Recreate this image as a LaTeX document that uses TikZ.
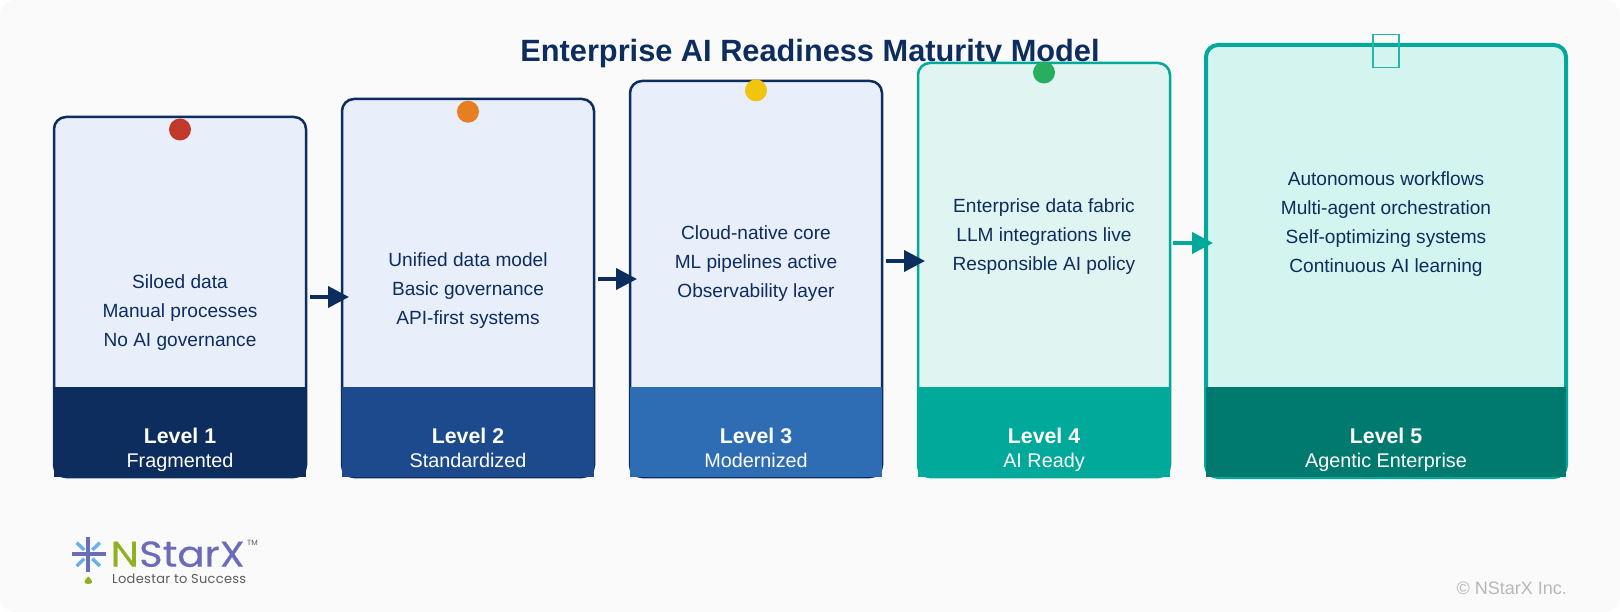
\documentclass[tikz,border=0pt]{standalone}
\usepackage{fontspec}
\setmainfont{Liberation Sans}
\newfontfamily\logofont[FakeBold=0.25]{Poppins}
\newfontfamily\logosmall{Poppins}
\newfontfamily\logotag[LetterSpace=2.3]{Poppins}
\usetikzlibrary{arrows.meta}
\definecolor{navy}{HTML}{0D2D5E}
\definecolor{teal1}{HTML}{00A99A}
\definecolor{tealdk}{HTML}{007A6E}
\definecolor{band2}{HTML}{1C4A8C}
\definecolor{band3}{HTML}{2E6DB4}
\definecolor{fillblue}{HTML}{E8EEFA}
\definecolor{fillaqua}{HTML}{E0F5F2}
\definecolor{fillmint}{HTML}{D4F5EF}
\definecolor{bgpage}{HTML}{FAFAFA}
\definecolor{logoviolet}{HTML}{6A6CB8}
\definecolor{logoblue}{HTML}{6AB0E8}
\definecolor{logogreen}{HTML}{8DB11F}
\definecolor{loggrey}{HTML}{5C5C5C}
\tikzset{
  cardbox/.style={draw,rectangle,rounded corners=12pt,inner sep=0pt,outer sep=0pt,minimum width=252pt,line width=2.5pt},
  bandbox/.style={rectangle,inner sep=0pt,outer sep=0pt,minimum width=252pt,minimum height=90pt},
  dotmark/.style={circle,inner sep=0pt,outer sep=0pt,minimum size=22pt},
  bodytext/.style={anchor=base,inner sep=0pt,text=navy,font=\fontsize{19.1}{23}\selectfont},
  leveltext/.style={anchor=base,inner sep=0pt,text=white,font=\fontsize{21.3}{25}\selectfont\bfseries},
  subtext/.style={anchor=base,inner sep=0pt,text=white,font=\fontsize{19.8}{24}\selectfont},
  flow/.style={-{Triangle[length=21pt,width=21pt]},line width=4pt},
}
\begin{document}
\begin{tikzpicture}[x=1pt,y=-1pt]
\useasboundingbox (0,0) rectangle (1620,612);
\fill[white] (0,0) rectangle (1620,612);
\fill[bgpage,rounded corners=16pt] (0,0) rectangle (1620,612);
\node[anchor=base,inner sep=0pt,text=navy,font=\fontsize{30.75}{36}\selectfont\bfseries] (title) at (810,62) {Enterprise AI Readiness Maturity Model};
% cards
\node[cardbox,draw=navy,fill=fillblue,minimum height=360pt] (c1) at (180,297) {};
\node[cardbox,draw=navy,fill=fillblue,minimum height=378pt] (c2) at (468,288) {};
\node[cardbox,draw=navy,fill=fillblue,minimum height=396pt] (c3) at (756,279) {};
\node[cardbox,draw=teal1,fill=fillaqua,minimum height=414pt] (c4) at (1044,270) {};
\node[cardbox,draw=teal1,fill=fillmint,line width=4pt,minimum width=360pt,minimum height=432pt] (c5) at (1386,261) {};
% bands
\node[bandbox,fill=navy] (b1) at (180,432) {};
\node[bandbox,fill=band2] (b2) at (468,432) {};
\node[bandbox,fill=band3] (b3) at (756,432) {};
\node[bandbox,fill=teal1] (b4) at (1044,432) {};
\node[bandbox,fill=tealdk,minimum width=360pt] (b5) at (1386,432) {};
% markers
\node[dotmark,fill={rgb,255:red,192;green,57;blue,43}] (d1) at (180,129.5) {};
\node[dotmark,fill={rgb,255:red,230;green,126;blue,34}] (d2) at (468,111.7) {};
\node[dotmark,fill={rgb,255:red,241;green,196;blue,15}] (d3) at (756,90.4) {};
\node[dotmark,fill={rgb,255:red,39;green,174;blue,96}] (d4) at (1044,72.5) {};
\node[draw={rgb,255:red,31;green,184;blue,171},line width=1.6pt,rectangle,inner sep=0pt,outer sep=0pt,minimum width=26pt,minimum height=33pt] (d5) at (1386,51) {};
% body
\node[bodytext] (t11) at (180,289) {Siloed data};
\node[bodytext] (t12) at (180,317.7) {Manual processes};
\node[bodytext] (t13) at (180,346.4) {No AI governance};
\node[bodytext] (t21) at (468,267) {Unified data model};
\node[bodytext] (t22) at (468,295.7) {Basic governance};
\node[bodytext] (t23) at (468,324.4) {API-first systems};
\node[bodytext] (t31) at (756,240) {Cloud-native core};
\node[bodytext] (t32) at (756,268.7) {ML pipelines active};
\node[bodytext] (t33) at (756,297.4) {Observability layer};
\node[bodytext] (t41) at (1044,213) {Enterprise data fabric};
\node[bodytext] (t42) at (1044,241.7) {LLM integrations live};
\node[bodytext] (t43) at (1044,270.4) {Responsible AI policy};
\node[bodytext] (t51) at (1386,186) {Autonomous workflows};
\node[bodytext] (t52) at (1386,214.7) {Multi-agent orchestration};
\node[bodytext] (t53) at (1386,243.4) {Self-optimizing systems};
\node[bodytext] (t54) at (1386,272.1) {Continuous AI learning};
% levels
\node[leveltext] (l1) at (180,443.4) {Level 1};
\node[subtext] (s1) at (180,467.6) {Fragmented};
\node[leveltext] (l2) at (468,443.4) {Level 2};
\node[subtext] (s2) at (468,467.6) {Standardized};
\node[leveltext] (l3) at (756,443.4) {Level 3};
\node[subtext] (s3) at (756,467.6) {Modernized};
\node[leveltext] (l4) at (1044,443.4) {Level 4};
\node[subtext] (s4) at (1044,467.6) {AI Ready};
\node[leveltext] (l5) at (1386,443.4) {Level 5};
\node[subtext] (s5) at (1386,467.6) {Agentic Enterprise};
% connectors
\coordinate (a1) at ([xshift=4pt]c1.east);
\coordinate (e1) at ([xshift=7pt]c2.west |- c1.east);
\coordinate (a2) at ([xshift=4pt,yshift=9pt]c2.east);
\coordinate (e2) at ([xshift=7pt,yshift=9pt]c3.west |- c2.east);
\coordinate (a3) at ([xshift=4pt,yshift=18pt]c3.east);
\coordinate (e3) at ([xshift=7pt,yshift=18pt]c4.west |- c3.east);
\coordinate (a4) at ([xshift=3pt,yshift=27pt]c4.east);
\coordinate (e4) at ([xshift=7pt,yshift=27pt]c5.west |- c4.east);
\draw[flow,draw=navy] (a1) -- (e1);
\draw[flow,draw=navy] (a2) -- (e2);
\draw[flow,draw=navy] (a3) -- (e3);
\draw[flow,draw=teal1] (a4) -- (e4);
% logo
\draw[logoblue,line width=3.4pt] (76.7,542.7) -- (84.3,550) (99.9,542.7) -- (92.3,550) (76.7,566) -- (84.3,558.7) (99.9,566) -- (92.3,558.7);
\draw[logoviolet,line width=4pt] (88.3,537) -- (88.3,572) (71.7,554.3) -- (105.7,554.3);
\fill[logogreen] (88.3,576.5) .. controls (90,578.5) and (92.2,580) .. (92.2,582) .. controls (92.2,584.6) and (84.4,584.6) .. (84.4,582) .. controls (84.4,580) and (86.6,578.5) .. cycle;
\node[anchor=base west,inner sep=0pt,font=\fontsize{36}{40}\logofont] (brand) at (110.5,566.7) {\scalebox{1.12}[1]{\textcolor{logogreen}{N}\textcolor{logoviolet}{StarX}}};
\node[anchor=base west,inner sep=0pt,text=loggrey,font=\fontsize{7.5}{8}\logosmall] (tm) at (247,545) {TM};
\node[anchor=base west,inner sep=0pt,text=loggrey,font=\fontsize{13}{15}\logotag] (tag) at (112,583) {Lodestar to Success};
\node[anchor=base east,inner sep=0pt,text={rgb,255:red,184;green,184;blue,184},font=\fontsize{18}{22}\selectfont] (copy) at (1567,594) {© NStarX Inc.};
\end{tikzpicture}
\end{document}
